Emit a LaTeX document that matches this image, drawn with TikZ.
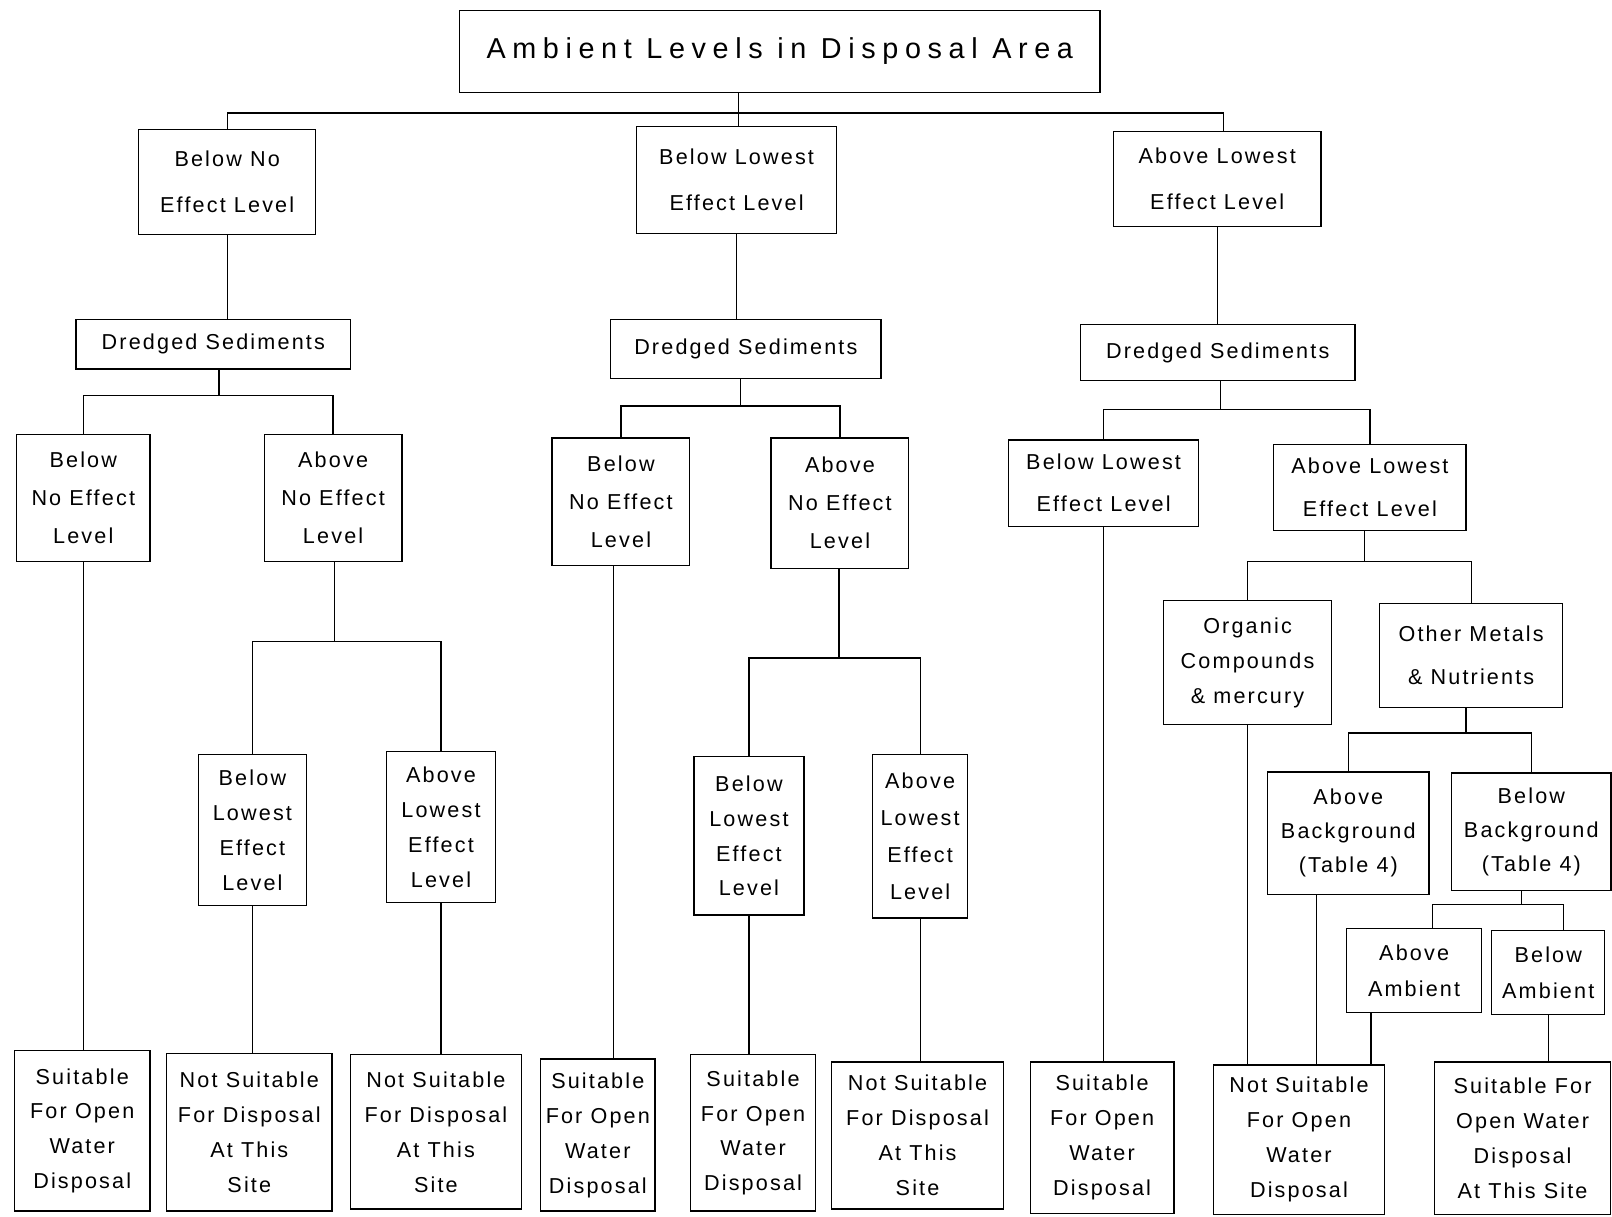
\documentclass[tikz,border=0pt]{standalone}
\usepackage{fontspec}
\setmainfont{Liberation Sans}
\newfontfamily\boxfont{Liberation Sans}[LetterSpace=10]
\newfontfamily\titlefont{Liberation Sans}[LetterSpace=23]
\tikzset{
    box/.style={draw, line width=1.2pt, align=center, inner sep=0pt,
        font=\boxfont\fontsize{21}{#1}\selectfont},
    box/.default=34,
    link/.style={line width=1.2pt},
}
\begin{document}
\begin{tikzpicture}[x=1pt, y=-1pt]
    \useasboundingbox (0,0) rectangle (1568,1183);
    \node[box, minimum width=623pt, minimum height=80pt, font=\titlefont\fontsize{28}{34}\selectfont] (title) at (758.5,50) {Ambient Levels in Disposal Area};

    \node[box=45, minimum width=172pt, minimum height=102pt] (a1) at (221,177) {Below No\\Effect Level};
    \node[box=45, minimum width=195pt, minimum height=104pt] (a2) at (716.5,175) {Below Lowest\\Effect Level};
    \node[box=45, minimum width=202pt, minimum height=92pt] (a3) at (1184,174) {Above Lowest\\Effect Level};

    \node[box, minimum width=267pt, minimum height=48pt] (ds1) at (207.5,335) {Dredged Sediments};
    \node[box, minimum width=263pt, minimum height=57pt] (ds2) at (725.5,339.5) {Dredged Sediments};
    \node[box, minimum width=267pt, minimum height=54pt] (ds3) at (1184.5,343) {Dredged Sediments};

    \node[box=37, minimum width=130pt, minimum height=123pt] (b1) at (81,484.5) {Below\\No Effect\\Level};
    \node[box=37, minimum width=134pt, minimum height=123pt] (b2) at (324,484.5) {Above\\No Effect\\Level};
    \node[box=37, minimum width=134pt, minimum height=124pt] (b3) at (604,488) {Below\\No Effect\\Level};
    \node[box=37, minimum width=134pt, minimum height=127pt] (b4) at (817,489.5) {Above\\No Effect\\Level};
    \node[box=41, minimum width=185pt, minimum height=84pt] (b5) at (1073.5,470) {Below Lowest\\Effect Level};
    \node[box=41, minimum width=187pt, minimum height=84pt] (b6) at (1332.5,474) {Above Lowest\\Effect Level};

    \node[box, minimum width=105pt, minimum height=147pt] (c1) at (245.5,807.5) {Below\\Lowest\\Effect\\Level};
    \node[box, minimum width=106pt, minimum height=147pt] (c2) at (429,804.5) {Above\\Lowest\\Effect\\Level};
    \node[box, minimum width=107pt, minimum height=154pt] (c3) at (728.5,813) {Below\\Lowest\\Effect\\Level};
    \node[box=36, minimum width=92pt, minimum height=159pt] (c4) at (895,813.5) {Above\\Lowest\\Effect\\Level};

    \node[box, minimum width=163pt, minimum height=121pt] (d1) at (1213.5,644.5) {Organic\\Compounds\\\& mercury};
    \node[box=42, minimum width=178pt, minimum height=101pt] (d2) at (1431,637.5) {Other Metals\\\& Nutrients};
    \node[box=33, minimum width=157pt, minimum height=119pt] (e1) at (1311.5,810.5) {Above\\Background\\(Table 4)};
    \node[box=33, minimum width=155pt, minimum height=114pt] (e2) at (1489.5,809) {Below\\Background\\(Table 4)};
    \node[box=35, minimum width=131pt, minimum height=82pt] (f1) at (1375.5,944) {Above\\Ambient};
    \node[box=35, minimum width=110pt, minimum height=82pt] (f2) at (1506,946) {Below\\Ambient};

    \node[box, minimum width=132pt, minimum height=156pt] (s1) at (80,1100) {Suitable\\For Open\\Water\\Disposal};
    \node[box, minimum width=161pt, minimum height=153pt] (s2) at (242.5,1101.5) {Not Suitable\\For Disposal\\At This\\Site};
    \node[box, minimum width=166pt, minimum height=150pt] (s3) at (424,1101) {Not Suitable\\For Disposal\\At This\\Site};
    \node[box, minimum width=111pt, minimum height=148pt] (s4) at (581.5,1104) {Suitable\\For Open\\Water\\Disposal};
    \node[box, minimum width=121pt, minimum height=152pt] (s5) at (732.5,1102) {Suitable\\For Open\\Water\\Disposal};
    \node[box, minimum width=167pt, minimum height=143pt] (s6) at (892.5,1104.5) {Not Suitable\\For Disposal\\At This\\Site};
    \node[box, minimum width=140pt, minimum height=147pt] (s7) at (1072,1106.5) {Suitable\\For Open\\Water\\Disposal};
    \node[box, minimum width=167pt, minimum height=145pt] (s8) at (1263.5,1108.5) {Not Suitable\\For Open\\Water\\Disposal};
    \node[box, minimum width=171pt, minimum height=148pt] (s9) at (1481,1107) {Suitable For\\Open Water\\Disposal\\At This Site};

    \coordinate (j0) at (718,110);
    \coordinate (j1) at (213,385);
    \coordinate (j2) at (720,395);
    \coordinate (j3) at (1187,398);
    \coordinate (j4) at (325,624);
    \coordinate (j5) at (816,640);
    \coordinate (j6) at (1327,546);
    \coordinate (j7) at (1426,713);
    \coordinate (j8) at (1480,880);
    \coordinate (a3n) at ([xshift=6pt]a3.north);
    \coordinate (b3s) at ([xshift=-7pt]b3.south);
    \coordinate (e1s) at ([xshift=-31pt]e1.south);
    \coordinate (f1n) at ([xshift=18pt]f1.north);
    \coordinate (f2n) at ([xshift=15pt]f2.north);
    \coordinate (f1s) at ([xshift=-42pt]f1.south);

    \draw[link] (j0 |- title.south) -- (j0);
    \draw[link] (j0) -| (a1.north);
    \draw[link] (j0) -- (j0 |- a2.north);
    \draw[link] (j0) -| (a3n);
    \draw[link] (a1.south) -- (a1.south |- ds1.north);
    \draw[link] (a2.south) -- (a2.south |- ds2.north);
    \draw[link] (a3.south) -- (a3.south |- ds3.north);

    \draw[link] (j1 |- ds1.south) -- (j1);
    \draw[link] (j1) -| (b1.north);
    \draw[link] (j1) -| (b2.north);
    \draw[link] (j2 |- ds2.south) -- (j2);
    \draw[link] (j2) -| (b3.north);
    \draw[link] (j2) -| (b4.north);
    \draw[link] (j3 |- ds3.south) -- (j3);
    \draw[link] (j3) -| (b5.north);
    \draw[link] (j3) -| (b6.north);

    \draw[link] (b1.south) -- (b1.south |- s1.north);
    \draw[link] (j4 |- b2.south) -- (j4);
    \draw[link] (j4) -| (c1.north);
    \draw[link] (j4) -| (c2.north);
    \draw[link] (c1.south) -- (c1.south |- s2.north);
    \draw[link] (c2.south) -- (c2.south |- s3.north);
    \draw[link] (b3s) -- (b3s |- s4.north);
    \draw[link] (j5 |- b4.south) -- (j5);
    \draw[link] (j5) -| (c3.north);
    \draw[link] (j5) -| (c4.north);
    \draw[link] (c3.south) -- (c3.south |- s5.north);
    \draw[link] (c4.south) -- (c4.south |- s6.north);
    \draw[link] (b5.south) -- (b5.south |- s7.north);

    \draw[link] (j6 |- b6.south) -- (j6);
    \draw[link] (j6) -| (d1.north);
    \draw[link] (j6) -| (d2.north);
    \draw[link] (d1.south) -- (d1.south |- s8.north);
    \draw[link] (j7 |- d2.south) -- (j7);
    \draw[link] (j7) -| (e1.north);
    \draw[link] (j7) -| (e2.north);
    \draw[link] (e1s) -- (e1s |- s8.north);
    \draw[link] (j8 |- e2.south) -- (j8);
    \draw[link] (j8) -| (f1n);
    \draw[link] (j8) -| (f2n);
    \draw[link] (f1s) -- (f1s |- s8.north);
    \draw[link] (f2.south) -- (f2.south |- s9.north);
\end{tikzpicture}
\end{document}
